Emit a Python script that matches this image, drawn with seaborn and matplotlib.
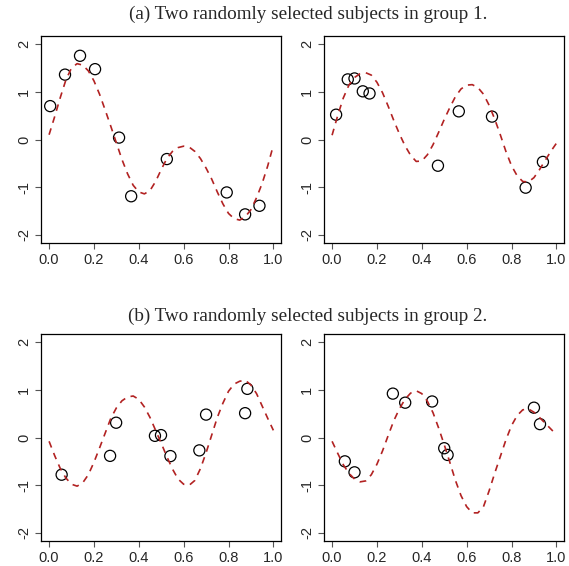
import numpy as np
import pandas as pd
import matplotlib
matplotlib.use("Agg")
import matplotlib.pyplot as plt
import seaborn as sns

# grid the fitted curves are read on
grid = [i * 0.025 for i in range(41)]

# panel (a) left
curve_a1 = [0.10, 0.48, 0.88, 1.25, 1.50, 1.59, 1.56, 1.44, 1.23, 0.95, 0.62,
            0.28, -0.07, -0.42, -0.72, -0.96, -1.10, -1.14, -1.07, -0.88, -0.63,
            -0.40, -0.25, -0.17, -0.14, -0.16, -0.25, -0.40, -0.60, -0.83, -1.10,
            -1.35, -1.55, -1.66, -1.69, -1.62, -1.47, -1.22, -0.92, -0.55, -0.12]
obs_a1_x = [0.005, 0.071, 0.138, 0.205, 0.312, 0.366, 0.525, 0.792, 0.874, 0.938]
obs_a1_y = [0.70, 1.36, 1.755, 1.475, 0.04, -1.19, -0.41, -1.11, -1.57, -1.39]

# panel (a) right
curve_a2 = [0.09, 0.50, 0.87, 1.14, 1.30, 1.38, 1.40, 1.35, 1.20, 0.98, 0.70,
            0.40, 0.12, -0.13, -0.33, -0.46, -0.45, -0.32, -0.11, 0.15, 0.42,
            0.67, 0.90, 1.06, 1.14, 1.15, 1.09, 0.95, 0.72, 0.43, 0.10,
            -0.25, -0.55, -0.76, -0.88, -0.89, -0.80, -0.63, -0.44, -0.25, -0.08]
obs_a2_x = [0.018, 0.070, 0.100, 0.137, 0.167, 0.472, 0.565, 0.713, 0.863, 0.940]
obs_a2_y = [0.52, 1.26, 1.28, 1.01, 0.965, -0.55, 0.59, 0.48, -1.01, -0.47]

# panel (b) left
curve_b1 = [-0.08, -0.38, -0.65, -0.85, -0.98, -1.02, -0.95, -0.78, -0.52, -0.22, 0.09,
            0.40, 0.62, 0.77, 0.85, 0.87, 0.80, 0.64, 0.42, 0.15, -0.12,
            -0.40, -0.66, -0.87, -0.98, -1.00, -0.90, -0.65, -0.32, 0.05, 0.42,
            0.72, 0.97, 1.12, 1.18, 1.20, 1.10, 0.92, 0.66, 0.40, 0.15]
obs_b1_x = [0.056, 0.272, 0.299, 0.472, 0.499, 0.541, 0.670, 0.700, 0.874, 0.884]
obs_b1_y = [-0.78, -0.385, 0.31, 0.035, 0.05, -0.39, -0.27, 0.48, 0.51, 1.02]

# panel (b) right
curve_b2 = [-0.08, -0.33, -0.57, -0.75, -0.87, -0.93, -0.91, -0.78, -0.56, -0.28, 0.04,
            0.35, 0.60, 0.80, 0.93, 0.98, 0.92, 0.76, 0.52, 0.20, -0.15,
            -0.52, -0.90, -1.22, -1.45, -1.58, -1.58, -1.45, -1.12, -0.75, -0.40,
            -0.05, 0.25, 0.46, 0.58, 0.60, 0.53, 0.42, 0.30, 0.18, 0.06]
obs_b2_x = [0.057, 0.100, 0.271, 0.326, 0.446, 0.500, 0.515, 0.900, 0.927]
obs_b2_y = [-0.50, -0.73, 0.92, 0.73, 0.755, -0.225, -0.365, 0.625, 0.28]

titles = ["(a) Two randomly selected subjects in group 1.",
          "(b) Two randomly selected subjects in group 2."]
xticks = [0.0, 0.2, 0.4, 0.6, 0.8, 1.0]
xticklabels = ["0.0", "0.2", "0.4", "0.6", "0.8", "1.0"]
yticks = [-2, -1, 0, 1, 2]
yticklabels = ["-2", "-1", "0", "1", "2"]

sns.set_style("white")
plt.rcParams["font.family"] = ["Liberation Sans", "DejaVu Sans"]

fig = plt.figure(figsize=(5.69, 5.66), dpi=100)
W, H = 569, 566
boxes = [(41, 36), (324, 36), (41, 334), (324, 334)]
panels = [(curve_a1, obs_a1_x, obs_a1_y), (curve_a2, obs_a2_x, obs_a2_y),
          (curve_b1, obs_b1_x, obs_b1_y), (curve_b2, obs_b2_x, obs_b2_y)]

for (left, top), (curve, ox, oy) in zip(boxes, panels):
    ax = fig.add_axes([left / W, 1 - (top + 207) / H, 240 / W, 207 / H])
    cdf = pd.DataFrame({"t": grid, "f": curve})
    odf = pd.DataFrame({"t": ox, "y": oy})
    sns.lineplot(data=cdf, x="t", y="f", ax=ax, color="#B22222",
                 linewidth=1.2, dashes=False)
    ax.lines[-1].set_linestyle((0, (4, 3.5)))
    sns.scatterplot(data=odf, x="t", y="y", ax=ax, marker="o", s=64,
                    facecolor="none", edgecolor="black", linewidth=0.9)
    ax.set_xlim(-0.036, 1.034)
    ax.set_ylim(-2.17, 2.17)
    ax.set_xticks(xticks)
    ax.set_xticklabels(xticklabels)
    ax.set_yticks(yticks)
    ax.set_yticklabels(yticklabels, rotation=90, va="center")
    ax.set_xlabel("")
    ax.set_ylabel("")
    ax.tick_params(axis="both", direction="out", length=4, width=0.8,
                   color="#555555", labelsize=10.5, pad=3,
                   bottom=True, left=True, top=False, right=False)
    for sp in ax.spines.values():
        sp.set_color("black")
        sp.set_linewidth(0.9)

fig.text(308 / W, 1 - 14 / H, titles[0], ha="center", va="center",
         family="Liberation Serif", fontsize=13.8)
fig.text(308 / W, 1 - 316 / H, titles[1], ha="center", va="center",
         family="Liberation Serif", fontsize=13.8)

fig.savefig("out.png", dpi=100)
